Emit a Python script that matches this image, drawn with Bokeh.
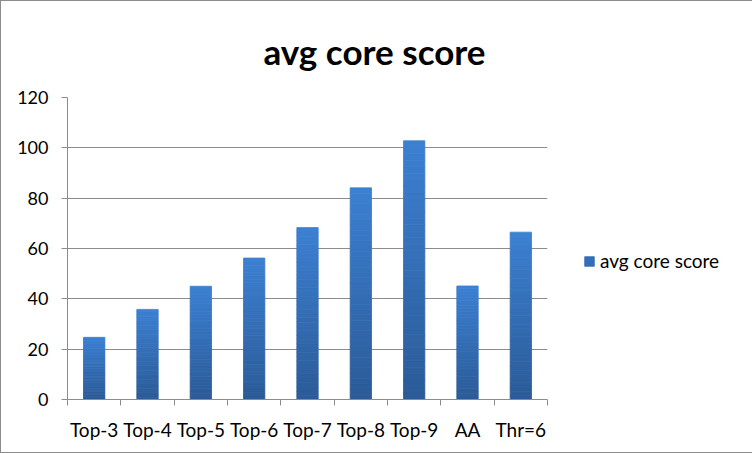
from bokeh.plotting import figure
from bokeh.models import Range1d, FixedTicker, Legend, LegendItem
from bokeh.embed import file_html
from bokeh.resources import INLINE

categories = ["Top-3", "Top-4", "Top-5", "Top-6", "Top-7", "Top-8", "Top-9", "AA", "Thr=6"]
scores = [24.7, 35.8, 45.0, 56.2, 68.3, 84.1, 102.8, 45.1, 66.5]
y_ticks = [0, 20, 40, 60, 80, 100, 120]
series_name = "avg core score"

FONT = "Lato"
n = len(categories)
centers = [i + 0.5 for i in range(n)]

p = figure(output_backend="svg", toolbar_location=None,
           frame_width=480, frame_height=302,
           min_border_left=66, min_border_right=204,
           min_border_top=96, min_border_bottom=53,
           x_range=Range1d(0, n), y_range=Range1d(0, 120))
p.styles = {"border": "1px solid #8c8c8c"}
p.background_fill_color = "white"
p.border_fill_color = "white"
p.outline_line_color = None

p.title.text = series_name
p.title.text_font = FONT
p.title.text_font_size = "35px"
p.title.text_font_style = "bold"
p.title.text_color = "black"
p.title.align = "left"
p.title.offset = 196
p.title.standoff = 52

# gradient bars built from slices
steps = 40
dark = (43, 91, 151)
light = (60, 128, 210)
renderers = []
for k in range(steps):
    t = (k + 0.5) / steps
    c = tuple(int(round(dark[j] + (light[j] - dark[j]) * t)) for j in range(3))
    col = "#%02x%02x%02x" % c
    bottoms = [v * k / steps for v in scores]
    tops = [v * (k + 1) / steps for v in scores]
    r = p.vbar(x=centers, width=0.4, bottom=bottoms, top=tops,
               fill_color=col, line_color=col, line_width=0.8)
    renderers.append(r)

legend = Legend(items=[LegendItem(label=series_name, renderers=[renderers[steps // 2]])],
                location=(36, 127), padding=0, margin=0, spacing=0,
                glyph_width=12, glyph_height=12, label_height=20,
                label_standoff=5, border_line_color=None,
                background_fill_alpha=0,
                label_text_font=FONT, label_text_font_size="19px",
                label_text_color="black")
p.add_layout(legend, "right")

# axes
p.xaxis.ticker = FixedTicker(ticks=centers, minor_ticks=list(range(n + 1)))
p.xaxis.major_label_overrides = {c: cat for c, cat in zip(centers, categories)}
p.xaxis.major_tick_in = 0
p.xaxis.major_tick_out = 0
p.xaxis.minor_tick_in = 0
p.xaxis.minor_tick_out = 6
p.xaxis.minor_tick_line_color = "#8c8c8c"
p.xaxis.axis_line_color = "#8c8c8c"
p.xaxis.major_label_standoff = 12
p.xaxis.major_label_text_font = FONT
p.xaxis.major_label_text_font_size = "19px"
p.xaxis.major_label_text_color = "black"

p.yaxis.ticker = FixedTicker(ticks=y_ticks, minor_ticks=[])
p.yaxis.major_tick_in = 0
p.yaxis.major_tick_out = 6
p.yaxis.major_tick_line_color = "#8c8c8c"
p.yaxis.axis_line_color = "#8c8c8c"
p.yaxis.major_label_standoff = 13
p.yaxis.major_label_text_font = FONT
p.yaxis.major_label_text_font_size = "18px"
p.yaxis.major_label_text_color = "black"

p.xgrid.grid_line_color = None
p.ygrid.grid_line_color = "#8c8c8c"
p.ygrid.grid_line_width = 1

open("out.html", "w").write(file_html(p, INLINE))
